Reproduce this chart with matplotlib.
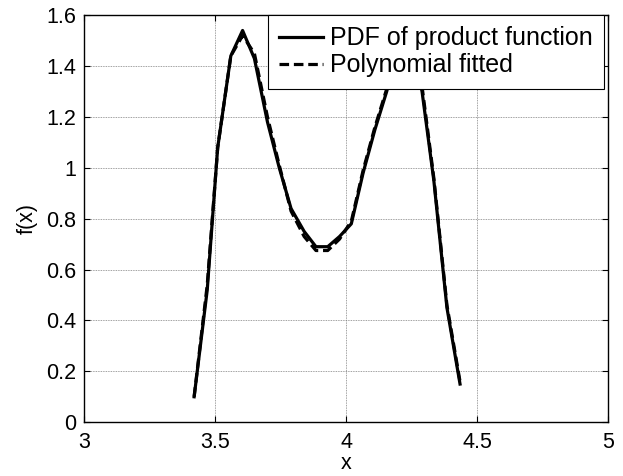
import matplotlib
matplotlib.use("Agg")
import matplotlib.pyplot as plt

plt.rcParams['font.family'] = ['Liberation Sans', 'DejaVu Sans']

x_pdf = [3.42, 3.47, 3.51, 3.56, 3.605, 3.65, 3.70, 3.745, 3.79, 3.84, 3.885,
         3.93, 3.975, 4.02, 4.065, 4.11, 4.155, 4.20, 4.245, 4.29, 4.335, 4.385, 4.435]
y_pdf = [0.10, 0.52, 1.08, 1.44, 1.54, 1.43, 1.18, 1.00, 0.84, 0.75, 0.69,
         0.69, 0.73, 0.78, 0.98, 1.15, 1.30, 1.48, 1.52, 1.30, 0.95, 0.45, 0.15]
y_fit = [0.10, 0.54, 1.08, 1.44, 1.52, 1.45, 1.20, 1.01, 0.83, 0.73, 0.675,
         0.675, 0.72, 0.79, 0.99, 1.16, 1.31, 1.48, 1.51, 1.32, 0.96, 0.46, 0.16]

fig = plt.figure(figsize=(6.23, 4.76), dpi=100)
ax = fig.add_axes([0.135, 0.113, 0.841, 0.855])

ax.plot(x_pdf, y_pdf, color='black', linewidth=2.3, label='PDF of product function')
ax.plot(x_pdf, y_fit, color='black', linewidth=2.3, linestyle=(0, (3, 1.5)),
        label='Polynomial fitted')

ax.set_xlim(3, 5)
ax.set_ylim(0, 1.6)
ax.set_xticks([3, 3.5, 4, 4.5, 5])
ax.set_xticklabels(['3', '3.5', '4', '4.5', '5'])
ax.set_yticks([0, 0.2, 0.4, 0.6, 0.8, 1, 1.2, 1.4, 1.6])
ax.set_yticklabels(['0', '0.2', '0.4', '0.6', '0.8', '1', '1.2', '1.4', '1.6'])
ax.grid(True, color='#808080', linestyle=(0, (1, 1)), linewidth=0.6)
ax.tick_params(direction='in', length=4, labelsize=15.5, top=True, right=True, width=0.8)
ax.tick_params(axis='x', pad=7)
ax.tick_params(axis='y', pad=6)
for s in ax.spines.values():
    s.set_linewidth(1.0)
ax.set_xlabel('x', fontsize=15.5, labelpad=0)
ax.set_ylabel('f(x)', fontsize=15.5, labelpad=6)

leg = ax.legend(loc='upper right', bbox_to_anchor=(0.993, 1.0), fontsize=18,
                frameon=True, fancybox=False,
                edgecolor='black', framealpha=1, handlelength=1.75,
                borderpad=0.45, labelspacing=0.12, handletextpad=0.3, borderaxespad=0.0)
leg.get_frame().set_linewidth(0.8)

fig.savefig('out.png', dpi=100)
